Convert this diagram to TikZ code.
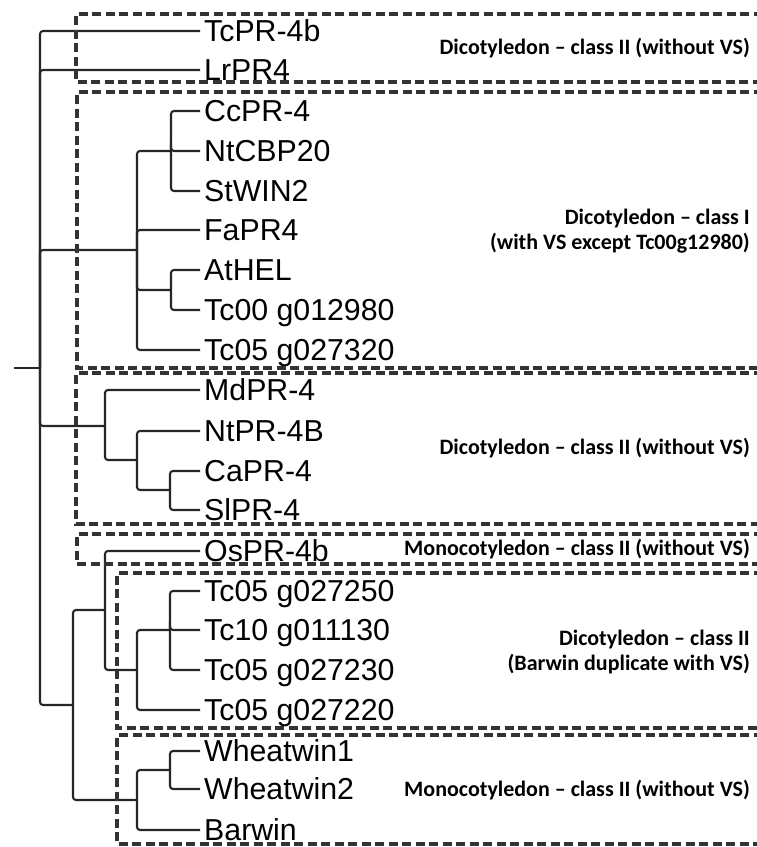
\documentclass[tikz,border=0pt]{standalone}
\usepackage{fontspec}
\newfontfamily\leaffont{Liberation Sans}
\newfontfamily\labfont{Carlito}
\begin{document}
\begin{tikzpicture}[x=1pt,y=-1pt,
  branch/.style={draw=black!85, line width=2.1pt, rounded corners=3pt},
  group/.style={draw=black!80, line width=3.2pt, dash pattern=on 9pt off 4.5pt},
  leaf/.style={anchor=west, inner xsep=4pt, inner ysep=0pt, text height=21.6pt, text depth=0pt,
    font=\leaffont\fontsize{30.3}{33}\selectfont},
  grouplabel/.style={anchor=east, inner sep=0pt, align=right,
    font=\labfont\bfseries\fontsize{22}{25.5}\selectfont}]
\useasboundingbox (0,0) rectangle (757,847);
\clip (0,0) rectangle (757,847);
\fill[white] (0,0) rectangle (757,847);
% leaves
\node[leaf] (l0) at (200,31) {TcPR-4b};
\node[leaf] (l1) at (200,70) {LrPR4};
\node[leaf] (l2) at (200,111) {CcPR-4};
\node[leaf] (l3) at (200,151) {NtCBP20};
\node[leaf] (l4) at (200,191) {StWIN2};
\node[leaf] (l5) at (200,230) {FaPR4};
\node[leaf] (l6) at (200,270) {AtHEL};
\node[leaf] (l7) at (200,310) {Tc00 g012980};
\node[leaf] (l8) at (200,350) {Tc05 g027320};
\node[leaf] (l9) at (200,390) {MdPR-4};
\node[leaf] (l10) at (200,431) {NtPR-4B};
\node[leaf] (l11) at (200,471) {CaPR-4};
\node[leaf] (l12) at (200,510) {SlPR-4};
\node[leaf] (l13) at (200,551) {OsPR-4b};
\node[leaf] (l14) at (200,591) {Tc05 g027250};
\node[leaf] (l15) at (200,630) {Tc10 g011130};
\node[leaf] (l16) at (200,670) {Tc05 g027230};
\node[leaf] (l17) at (200,710) {Tc05 g027220};
\node[leaf] (l18) at (200,751) {Wheatwin1};
\node[leaf] (l19) at (200,789) {Wheatwin2};
\node[leaf] (l20) at (200,830) {Barwin};
% internal nodes
\coordinate (stub) at (14,368);
\coordinate (r) at (40,368);
\coordinate (cI) at (137,250);
\coordinate (n1) at (171,151);
\coordinate (n2) at (171,290);
\coordinate (cII) at (105,426);
\coordinate (n3) at (137,460);
\coordinate (n4) at (170,490);
\coordinate (bot) at (73,705);
\coordinate (n5) at (105,610);
\coordinate (n6) at (137,670);
\coordinate (n7) at (170,630);
\coordinate (n8) at (137,800);
\coordinate (n9) at (170,770);
% branches
\draw[branch] (stub) -- (r);
\draw[branch] (r) |- (l0.west);
\draw[branch] (r) |- (l1.west);
\draw[branch] (r) |- (cI);
\draw[branch] (r) |- (cII);
\draw[branch] (r) |- (bot);
\draw[branch] (cI) |- (n1);
\draw[branch] (cI) |- (l5.west);
\draw[branch] (cI) |- (n2);
\draw[branch] (cI) |- (l8.west);
\draw[branch] (n1) |- (l2.west);
\draw[branch] (n1) |- (l3.west);
\draw[branch] (n1) |- (l4.west);
\draw[branch] (n2) |- (l6.west);
\draw[branch] (n2) |- (l7.west);
\draw[branch] (cII) |- (l9.west);
\draw[branch] (cII) |- (n3);
\draw[branch] (n3) |- (l10.west);
\draw[branch] (n3) |- (n4);
\draw[branch] (n4) |- (l11.west);
\draw[branch] (n4) |- (l12.west);
\draw[branch] (bot) |- (n5);
\draw[branch] (bot) |- (n8);
\draw[branch] (n5) |- (l13.west);
\draw[branch] (n5) |- (n6);
\draw[branch] (n6) |- (n7);
\draw[branch] (n6) |- (l17.west);
\draw[branch] (n7) |- (l14.west);
\draw[branch] (n7) |- (l15.west);
\draw[branch] (n7) |- (l16.west);
\draw[branch] (n8) |- (n9);
\draw[branch] (n8) |- (l20.west);
\draw[branch] (n9) |- (l18.west);
\draw[branch] (n9) |- (l19.west);
% group boxes
\draw[group] (776,14) -- (76,14) -- (76,82) -- (776,82);
\draw[group] (776,92) -- (77,92) -- (77,368) -- (776,368);
\draw[group] (776,373) -- (76,373) -- (76,524) -- (776,524);
\draw[group] (776,534) -- (77,534) -- (77,564) -- (776,564);
\draw[group] (776,573) -- (117,573) -- (117,728) -- (776,728);
\draw[group] (776,735) -- (117,735) -- (117,844) -- (776,844);
% group labels
\node[grouplabel] (g1) at (750,48) {Dicotyledon – class II (without VS)};
\node[grouplabel] (g2) at (750,231) {Dicotyledon – class I\\(with VS except Tc00g12980)};
\node[grouplabel] (g3) at (750,448) {Dicotyledon – class II (without VS)};
\node[grouplabel] (g4) at (750,549) {Monocotyledon – class II (without VS)};
\node[grouplabel] (g5) at (750,652) {Dicotyledon – class II\\(Barwin duplicate with VS)};
\node[grouplabel] (g6) at (750,790) {Monocotyledon – class II (without VS)};
\end{tikzpicture}
\end{document}
